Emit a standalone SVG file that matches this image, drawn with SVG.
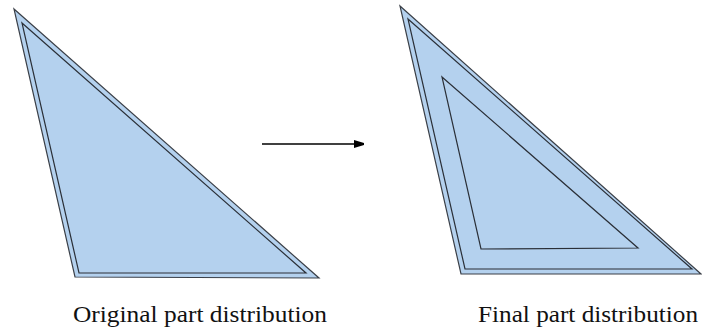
<svg xmlns="http://www.w3.org/2000/svg" width="702" height="330" viewBox="0 0 702 330">
<style>
.tri{fill:#b4d1ee;stroke:#3a3f47;stroke-width:1.2;stroke-linejoin:miter}
.inner{fill:none;stroke:#2a2f37;stroke-width:1.2}
.lbl{font-family:"Liberation Serif","DejaVu Serif",serif;font-size:24px;fill:#111}
.conn{stroke:#000;stroke-width:1.5;fill:none}
</style>
<defs>
<marker id="ah" markerWidth="10" markerHeight="8" refX="10" refY="4" orient="auto" markerUnits="userSpaceOnUse">
<path d="M0,0 L13,4 L0,8 Z" fill="#000"/>
</marker>
</defs>
<g id="original">
<polygon class="tri" points="14,9 319,278 75,277"/>
<polygon class="inner" points="22,23 306,273 79,273"/>
<text class="lbl" x="73" y="322" textLength="254" lengthAdjust="spacingAndGlyphs">Original part distribution</text>
</g>
<g id="final">
<polygon class="tri" points="400,6 701,274 461,274"/>
<polygon class="inner" points="408,19 692,269 465,269"/>
<polygon class="inner" points="442,77 638,248 481,249"/>
<text class="lbl" x="478" y="322" textLength="220" lengthAdjust="spacingAndGlyphs">Final part distribution</text>
</g>
<g id="connectors">
<line class="conn" x1="262" y1="144" x2="364" y2="144" marker-end="url(#ah)"/>
</g>
</svg>
